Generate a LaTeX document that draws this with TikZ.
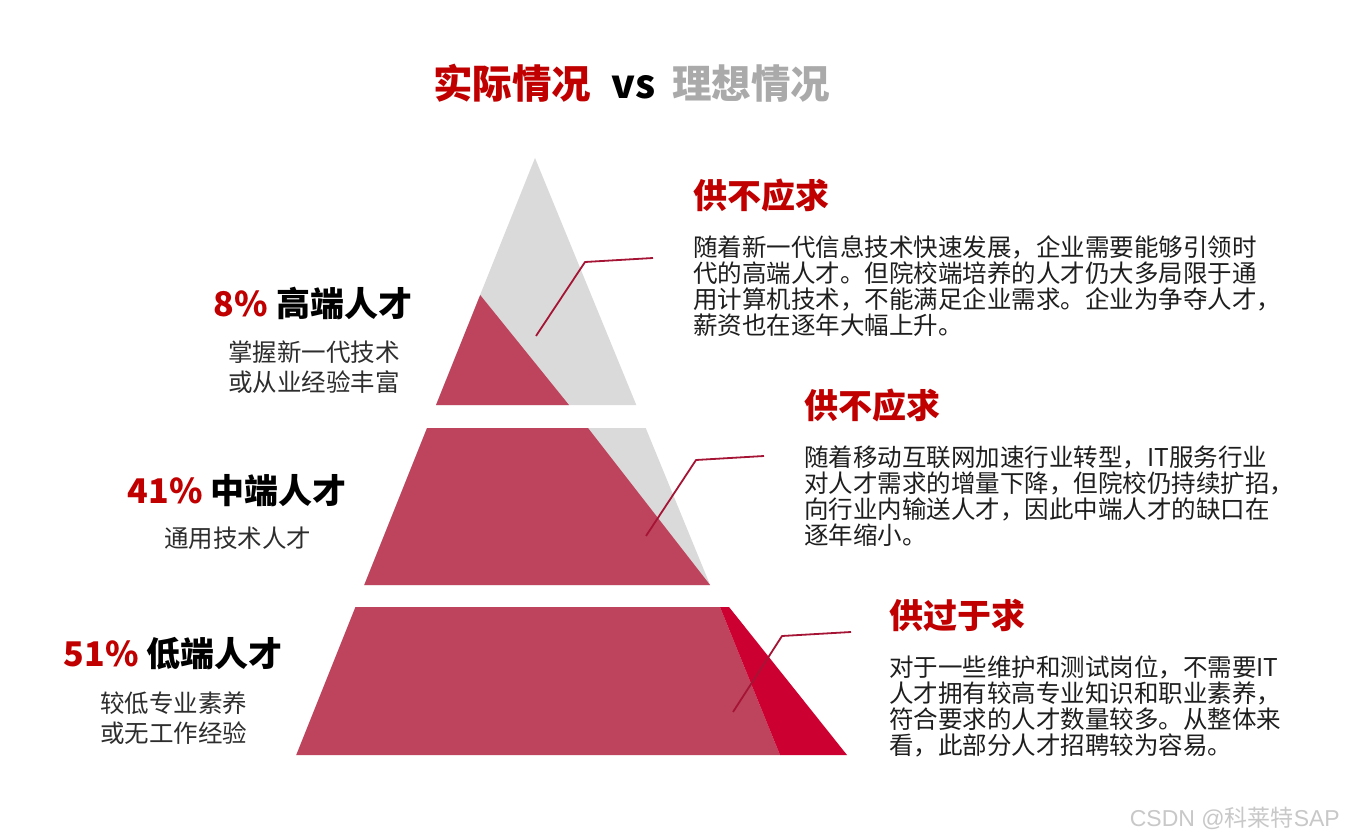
\documentclass[tikz,border=0pt]{standalone}
\usepackage{fontspec}
\setmainfont{Noto Sans CJK SC}
\newfontfamily\wmlatin{Liberation Sans}
\definecolor{idealgray}{RGB}{218,218,218}
\definecolor{actualred}{RGB}{190,68,94}
\definecolor{excessred}{RGB}{205,0,50}
\definecolor{leadred}{RGB}{165,20,52}
\definecolor{headred}{RGB}{192,0,0}
\definecolor{titlegray}{RGB}{170,170,170}
\definecolor{bodytext}{RGB}{30,30,30}
\definecolor{desctext}{RGB}{45,45,45}
\definecolor{markgray}{RGB}{200,200,200}
\begin{document}
\begin{tikzpicture}[x=1pt,y=-1pt,
  ideal/.style={fill=idealgray},
  actual/.style={fill=actualred},
  excess/.style={fill=excessred},
  leader/.style={draw=leadred,line width=1.8pt,line join=round},
  titletext/.style={font=\fontsize{39.5}{44}\selectfont\bfseries,inner sep=0,anchor=base west},
  tierhead/.style={font=\fontsize{34}{40}\selectfont\bfseries,inner sep=0,anchor=base,text=black},
  tierdesc/.style={font=\fontsize{24.5}{30}\selectfont,align=center,inner sep=0,anchor=base,text=desctext},
  sidehead/.style={font=\fontsize{34}{40}\selectfont\bfseries,inner sep=0,anchor=base west,text=headred},
  sidebody/.style={font=\fontsize{24.5}{26}\selectfont,align=left,inner sep=0,anchor=base west,text=bodytext}]
\useasboundingbox[fill=white] (0,0) rectangle (1350,840);

% title
\node[titletext,text=headred] (t1) at (433,99) {实际情况};
\node[titletext,text=black] (tvs) at (611,99) {vs};
\node[titletext,text=titlegray] (t2) at (672,99) {理想情况};

% pyramid: top tier
\fill[ideal] (535,158) -- (436,405) -- (636.3,405) -- cycle;
\fill[actual] (480.2,295) -- (436,405) -- (569,405) -- cycle;
% middle tier
\fill[ideal] (427,428) -- (645.7,428) -- (710.1,585) -- (364.2,585) -- cycle;
\fill[actual] (427,428) -- (588,428) -- (710.1,585) -- (364.2,585) -- cycle;
% bottom tier
\fill[actual] (355.4,607) -- (720,607) -- (780,755) -- (296.2,755) -- cycle;
\fill[excess] (720,607) -- (729,607) -- (847,755) -- (780,755) -- cycle;

% leaders
\coordinate (l1a) at (536,336); \coordinate (l1b) at (585,262); \coordinate (l1c) at (653,258);
\coordinate (l2a) at (646,536); \coordinate (l2b) at (696,460); \coordinate (l2c) at (764,456);
\coordinate (l3a) at (733,712); \coordinate (l3b) at (782,636); \coordinate (l3c) at (851,632);
\draw[leader] (l1a) -- (l1b) -- (l1c);
\draw[leader] (l2a) -- (l2b) -- (l2c);
\draw[leader] (l3a) -- (l3b) -- (l3c);

% left labels (base anchor = baseline of the last line)
\node[tierhead] (h1) at (313,316) {\textcolor{headred}{8\%} 高端人才};
\node[tierdesc] (d1) at (314,391) {掌握新一代技术\\或从业经验丰富};
\node[tierhead] (h2) at (237,503) {\textcolor{headred}{41\%} 中端人才};
\node[tierdesc] (d2) at (237.5,547) {通用技术人才};
\node[tierhead] (h3) at (173,666) {\textcolor{headred}{51\%} 低端人才};
\node[tierdesc] (d3) at (173.5,742) {较低专业素养\\或无工作经验};

% right blocks
\node[sidehead] (s1) at (693,208) {供不应求};
\node[sidebody] (b1) at (693,334) {随着新一代信息技术快速发展，企业需要能够引领时\\代的高端人才。但院校端培养的人才仍大多局限于通\\用计算机技术，不能满足企业需求。企业为争夺人才，\\薪资也在逐年大幅上升。};
\node[sidehead] (s2) at (804,418) {供不应求};
\node[sidebody] (b2) at (804,544) {随着移动互联网加速行业转型，IT服务行业\\对人才需求的增量下降，但院校仍持续扩招，\\向行业内输送人才，因此中端人才的缺口在\\逐年缩小。};
\node[sidehead] (s3) at (889,628) {供过于求};
\node[sidebody] (b3) at (889,754) {对于一些维护和测试岗位，不需要IT\\人才拥有较高专业知识和职业素养，\\符合要求的人才数量较多。从整体来\\看，此部分人才招聘较为容易。};

% watermark
\node[font=\fontsize{23}{26}\selectfont,text=markgray,inner sep=0,anchor=base east] (wm) at (1340,826) {{\wmlatin CSDN @}科莱特{\wmlatin SAP}};
\end{tikzpicture}
\end{document}
